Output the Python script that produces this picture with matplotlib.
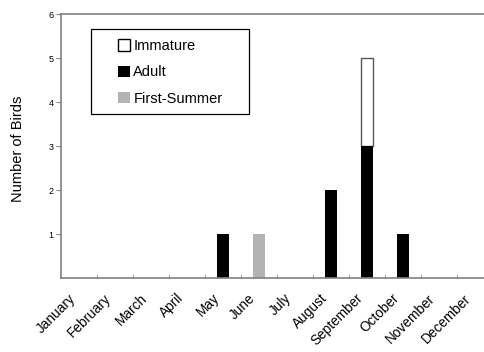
import numpy as np
import matplotlib
matplotlib.use("Agg")
from matplotlib import pyplot as plt
from matplotlib.transforms import ScaledTranslation
from matplotlib.patches import Rectangle

plt.rcParams['font.family'] = ['Liberation Sans', 'DejaVu Sans']

# data
months = ['January', 'February', 'March', 'April', 'May', 'June', 'July',
          'August', 'September', 'October', 'November', 'December']
adult = [0, 0, 0, 0, 1, 0, 0, 2, 3, 1, 0, 0]
first_summer = [0, 0, 0, 0, 0, 1, 0, 0, 0, 0, 0, 0]
immature = [0, 0, 0, 0, 0, 0, 0, 0, 2, 0, 0, 0]

fig = plt.figure(figsize=(4.84, 3.52), dpi=100)
ax = fig.add_axes([61 / 484, 1 - 278 / 352, 1 - 61 / 484, 264 / 352])

x = np.arange(len(months))
w = 0.36
base = np.array(adult) + np.array(first_summer)
mask = np.array(immature) > 0
ax.bar(x[mask], np.array(immature)[mask], w, bottom=base[mask], color='white',
       edgecolor='#555555', linewidth=1, label='Immature')
ax.bar(x, adult, w, color='black', label='Adult')
ax.bar(x, first_summer, w, bottom=adult, color='#b3b3b3', label='First-Summer')

ax.set_xlim(-0.5, 11.25)
ax.set_ylim(0, 6)
ax.set_xticks(x)
ax.set_xticks(np.arange(0.5, 11.5, 1), minor=True)
ax.tick_params(axis='x', which='major', length=0, pad=9.5)
ax.tick_params(axis='x', which='minor', direction='in', length=3, color='#999999')
ax.set_xticklabels(months, rotation=45, ha='right', va='top',
                   rotation_mode='anchor', fontsize=9.8)
# nudge the rotated labels left like the original
shift = ScaledTranslation(-0.11, 0, fig.dpi_scale_trans)
for lab in ax.get_xticklabels():
    lab.set_transform(lab.get_transform() + shift)

ax.set_yticks([1, 2, 3, 4, 5, 6])
ax.set_yticklabels(['1', '2', '3', '4', '5', '6'], fontsize=6.5)
ax.tick_params(axis='y', length=3.5, color='#888888', pad=2)
ax.set_ylabel('Number of Birds', fontsize=10.5)
ax.yaxis.set_label_coords(-0.085, 0.49)

for s in ['left', 'bottom', 'top']:
    ax.spines[s].set_color('#808080')
    ax.spines[s].set_linewidth(1.2)
ax.spines['right'].set_visible(False)

# legend box drawn separately, entries placed inside it
fig.patches.append(Rectangle((91 / 484, 1 - 114 / 352), 158 / 484, 85 / 352,
                             transform=fig.transFigure, fill=False,
                             edgecolor='black', linewidth=0.9, zorder=5))
leg = ax.legend(loc='upper left', bbox_to_anchor=(57 / 423, 1 - 25 / 264),
                fontsize=10.5, frameon=False,
                handlelength=0.8, handleheight=0.8, handletextpad=0.25,
                labelspacing=0.85, borderpad=0, borderaxespad=0)
leg.legend_handles[0].set_edgecolor('black')

fig.savefig('out.png', dpi=100)
